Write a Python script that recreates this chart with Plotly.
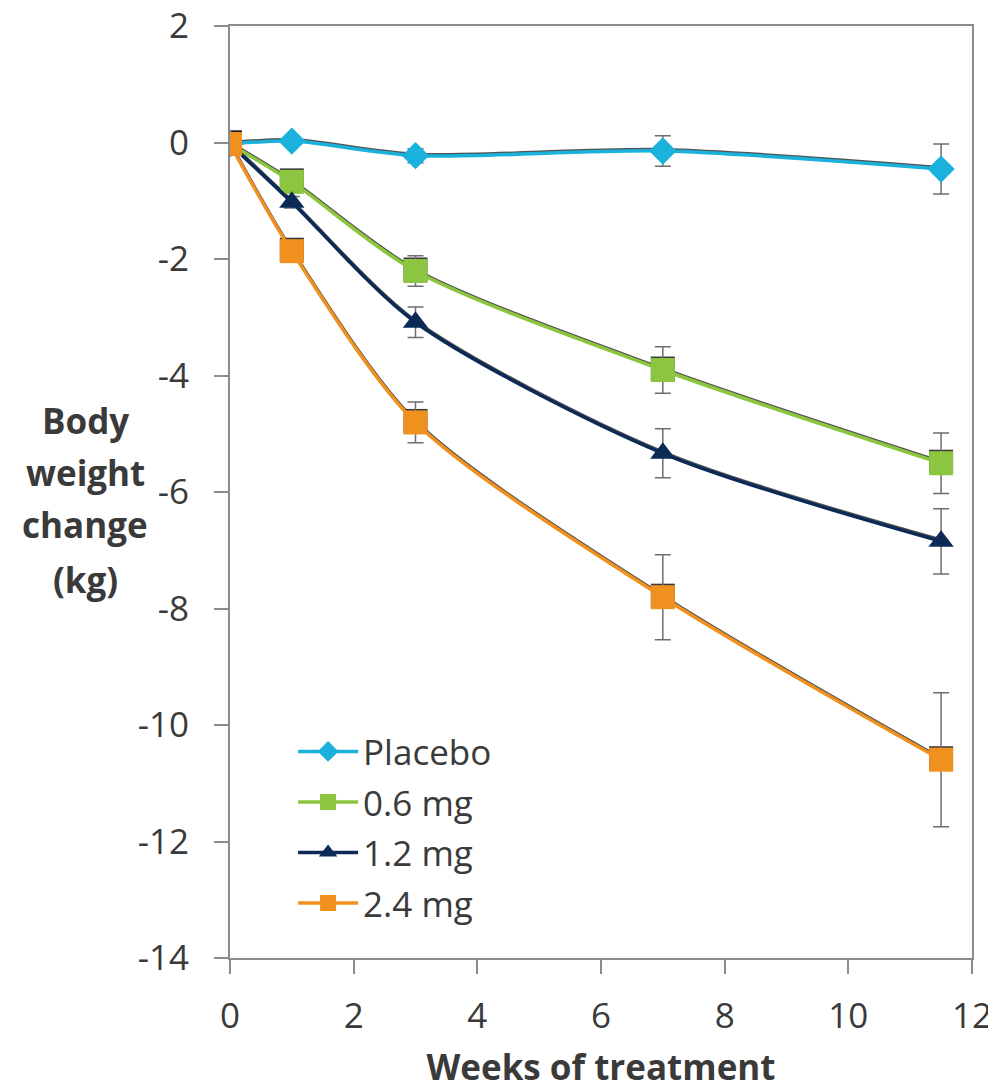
import plotly.graph_objects as go

weeks = [0, 1, 3, 7, 11.5]
series_names = ["Placebo", "0.6 mg", "1.2 mg", "2.4 mg"]
placebo = [0, 0.05, -0.2, -0.12, -0.43]
placebo_err = [0, 0.08, 0.12, 0.26, 0.43]
dose06 = [0, -0.65, -2.18, -3.88, -5.48]
dose06_err = [0, 0.1, 0.26, 0.4, 0.52]
dose12 = [0, -1.0, -3.06, -5.31, -6.82]
dose12_err = [0, 0.1, 0.26, 0.42, 0.56]
dose24 = [0, -1.84, -4.78, -7.78, -10.57]
dose24_err = [0, 0.12, 0.35, 0.73, 1.15]

x_ticks = [0, 2, 4, 6, 8, 10, 12]
y_ticks = [2, 0, -2, -4, -6, -8, -10, -12, -14]
y_title_lines = ["Body", "weight", "change", "(kg)"]

colors = ["#1AB2DC", "#8CC53F", "#0B2A55", "#F0901E"]
symbols = ["diamond", "square", "triangle-up", "square"]
sizes = [21, 24, 22, 24]
values = [placebo, dose06, dose12, dose24]
errors = [placebo_err, dose06_err, dose12_err, dose24_err]

fig = go.Figure()
# dark shadows on the main axis
for vals, sym, sz in zip(values, symbols, sizes):
    fig.add_trace(go.Scatter(
        x=weeks, y=vals, mode="lines+markers" if sym == "square" else "lines",
        showlegend=False, hoverinfo="skip",
        line=dict(color="rgba(25,25,25,0.75)", width=3, shape="spline", smoothing=0.8),
        marker=dict(color="rgba(25,25,25,0.85)", symbol=sym, size=sz, line=dict(width=0)),
    ))
# coloured series on an overlay axis shifted ~1.5 px lower, so the shadow peeks above
for name, vals, errs, col, sym, sz in zip(series_names, values, errors, colors, symbols, sizes):
    fig.add_trace(go.Scatter(
        x=weeks, y=vals, name=name, mode="lines+markers", yaxis="y2",
        line=dict(color=col, width=3.5, shape="spline", smoothing=0.8),
        marker=dict(color=col, symbol=sym, size=sz, line=dict(width=0)),
        error_y=dict(type="data", array=errs, visible=True, color="#6E6E6E", thickness=1.5, width=8),
        legendgroup=name,
    ))

shift = 16 / 932 * 1.5
fsize = 35
font_family = "Open Sans, Liberation Sans, sans-serif"
fig.update_layout(
    width=988, height=1082,
    margin=dict(l=222, r=24, t=18, b=132),
    paper_bgcolor="white", plot_bgcolor="white",
    font=dict(family=font_family, size=fsize, color="#3A3A3A"),
    showlegend=True,
    legend=dict(x=0.085, y=0.253, xanchor="left", yanchor="top",
                bgcolor="rgba(0,0,0,0)", font=dict(size=fsize, color="#3A3A3A"),
                traceorder="grouped", tracegroupgap=2, itemwidth=60),
    xaxis=dict(range=[0, 12], tickvals=x_ticks, ticktext=[str(v) for v in x_ticks],
               showgrid=False, zeroline=False, showline=True, linecolor="#8C8C8C", linewidth=2,
               mirror=True, ticks="outside", ticklen=14, tickcolor="#8C8C8C", tickwidth=2,
               tickfont=dict(size=fsize), ticklabelstandoff=12, automargin=False,
               ticklabeloverflow="allow",
               title=dict(text="<b>Weeks of treatment</b>", font=dict(size=fsize, color="#3A3A3A"), standoff=25)),
    yaxis=dict(range=[-14, 2], tickvals=y_ticks, ticktext=[str(v) for v in y_ticks],
               showgrid=False, zeroline=False, showline=True, linecolor="#8C8C8C", linewidth=2,
               mirror=True, ticks="outside", ticklen=14, tickcolor="#8C8C8C", tickwidth=2,
               tickfont=dict(size=fsize), ticklabelstandoff=18, automargin=False,
               ticklabeloverflow="allow"),
    yaxis2=dict(range=[-14 + shift, 2 + shift], overlaying="y", visible=False),
)
title_y = [0.577, 0.521, 0.465, 0.406]
for txt, yy in zip(y_title_lines, title_y):
    fig.add_annotation(
        text="<b>" + txt + "</b>", xref="paper", yref="paper",
        x=-0.195, y=yy, xanchor="center", yanchor="middle", showarrow=False,
        font=dict(size=fsize, color="#3A3A3A"),
    )
fig.write_html("out.html")
